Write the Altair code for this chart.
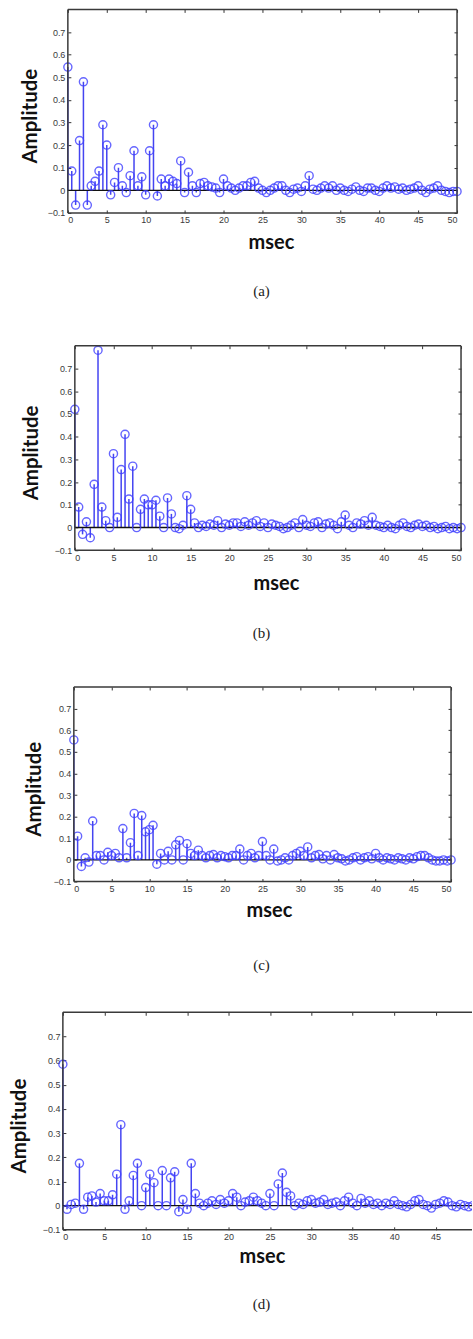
import altair as alt
import pandas as pd

# ---------------- data ----------------
T_STEP = 0.5  # msec between samples

amp_a = [
    0.545, 0.085, -0.065, 0.22, 0.48, -0.065, 0.02, 0.04, 0.085, 0.29,
    0.2, -0.02, 0.035, 0.1, 0.02, -0.01, 0.065, 0.175, 0.02, 0.06,
    -0.02, 0.175, 0.29, -0.025, 0.05, 0.02, 0.05, 0.04, 0.03, 0.13,
    -0.01, 0.08, 0.02, -0.01, 0.03, 0.035, 0.02, 0.015, 0.01, -0.01,
    0.05, 0.02, 0.01, 0.0, 0.01, 0.02, 0.02, 0.035, 0.04, 0.01,
    0.0, -0.01, 0.0, 0.01, 0.02, 0.02, 0.0, -0.01, 0.005, 0.01,
    -0.005, 0.02, 0.065, 0.005, 0.0, 0.01, 0.02, 0.01, 0.02, 0.0,
    0.01, 0.0, -0.005, 0.005, 0.015, 0.0, -0.005, 0.01, 0.01, 0.0,
    -0.005, 0.01, 0.02, 0.01, 0.015, 0.005, 0.01, 0.0, 0.005, 0.01,
    0.02, 0.0, -0.01, 0.005, 0.01, 0.02, 0.0, -0.005, -0.01, -0.005,
    -0.005,
]

amp_b = [
    0.52, 0.09, -0.03, 0.025, -0.045, 0.19, 0.78, 0.09, 0.03, 0.0,
    0.325, 0.045, 0.255, 0.41, 0.125, 0.27, 0.0, 0.08, 0.125, 0.1,
    0.1, 0.12, 0.05, 0.0, 0.13, 0.06, 0.0, -0.005, 0.01, 0.14,
    0.08, 0.02, 0.0, 0.01, 0.005, 0.015, 0.01, 0.03, 0.0, 0.015,
    0.01, 0.02, 0.02, 0.005, 0.025, 0.01, 0.02, 0.03, 0.005, 0.02,
    0.0, 0.015, 0.01, 0.005, -0.005, 0.0, 0.01, 0.02, 0.0, 0.035,
    0.01, 0.005, 0.02, 0.025, 0.0, 0.015, 0.02, 0.01, -0.005, 0.025,
    0.055, 0.01, 0.0, 0.02, 0.015, 0.03, 0.01, 0.045, 0.01, 0.005,
    0.0, 0.01, 0.0, -0.005, 0.01, 0.02, 0.005, 0.0, 0.01, 0.015,
    0.005, 0.01, 0.0, 0.005, -0.005, 0.0, 0.005, -0.005, 0.0, -0.005,
    0.0,
]

amp_c = [
    0.555, 0.11, -0.03, 0.01, -0.01, 0.18, 0.02, 0.02, 0.0, 0.035,
    0.02, 0.03, 0.01, 0.145, 0.01, 0.08, 0.215, 0.02, 0.205, 0.13,
    0.14, 0.16, -0.02, 0.03, 0.0, 0.04, 0.0, 0.07, 0.09, 0.0,
    0.075, 0.03, 0.02, 0.045, 0.02, 0.01, 0.02, 0.025, 0.01, 0.02,
    0.015, 0.01, 0.02, 0.02, 0.05, 0.0, 0.02, 0.03, 0.01, 0.02,
    0.085, 0.02, 0.0, 0.05, -0.005, 0.0, 0.01, 0.0, 0.02, 0.03,
    0.04, 0.02, 0.06, 0.01, 0.02, 0.025, 0.005, 0.02, 0.0, 0.025,
    0.01, 0.005, -0.005, 0.0, 0.01, 0.015, 0.0, 0.01, 0.015, 0.005,
    0.03, 0.01, 0.0, 0.01, 0.005, 0.0, 0.01, 0.005, 0.0, 0.01,
    0.005, 0.015, 0.02, 0.02, 0.01, 0.0, -0.005, -0.005, 0.0, -0.005,
    0.0,
]

amp_d = [
    0.585, -0.015, 0.005, 0.01, 0.175, -0.015, 0.035, 0.04, 0.015, 0.05,
    0.02, 0.02, 0.045, 0.13, 0.335, -0.015, 0.02, 0.125, 0.175, 0.0,
    0.075, 0.13, 0.095, 0.0, 0.145, 0.0, 0.115, 0.14, -0.025, 0.025,
    -0.015, 0.175, 0.05, 0.01, 0.0, 0.01, 0.02, 0.005, 0.025, 0.01,
    0.02, 0.05, 0.035, 0.0, 0.015, 0.02, 0.035, 0.02, 0.01, 0.0,
    0.05, 0.0, 0.09, 0.135, 0.055, 0.04, 0.0, 0.01, 0.005, 0.02,
    0.025, 0.01, 0.015, 0.025, 0.005, 0.01, 0.015, 0.0, 0.02, 0.035,
    0.01, 0.0, 0.03, 0.01, 0.02, 0.005, 0.01, 0.0, 0.01, 0.005,
    0.02, 0.005, 0.0, -0.005, 0.005, 0.02, 0.025, 0.005, 0.0, -0.01,
    0.005, 0.01, 0.02, 0.015, 0.0, -0.005, 0.005, 0.0, -0.005, 0.0,
    -0.005,
]

X_TICKS = [0, 5, 10, 15, 20, 25, 30, 35, 40, 45, 50]
X_TICKS_CUT = [0, 5, 10, 15, 20, 25, 30, 35, 40, 45]
Y_TICKS = [-0.1, 0, 0.1, 0.2, 0.3, 0.4, 0.5, 0.6, 0.7]
X_DOMAIN = [0, 50]
Y_DOMAIN = [-0.1, 0.8]
X_TITLE = "msec"
Y_TITLE = "Amplitude"
CAPTIONS = ["(a)", "(b)", "(c)", "(d)"]

# ---------------- layout (page pixels) ----------------
PAGE_W = 473
# each block is a full-width strip of the page; the plot frame sits inside it
LAYOUT = [
    dict(block_top=0,   block_h=320, left=68, top=8,    w=390, h=204,
         xticks=X_TICKS, cut=False, amp_x=31, msec=(272, 242), cap=(262, 290)),
    dict(block_top=320, block_h=340, left=75, top=345,  w=387, h=205,
         xticks=X_TICKS, cut=False, amp_x=32, msec=(277, 584), cap=(262, 633)),
    dict(block_top=660, block_h=330, left=74, top=687,  w=378, h=195,
         xticks=X_TICKS, cut=False, amp_x=35, msec=(270, 912), cap=(262, 966)),
    dict(block_top=990, block_h=349, left=63, top=1013, w=415, h=218,
         xticks=X_TICKS_CUT, cut=True, amp_x=20, msec=(263, 1258), cap=(262, 1305)),
]

STEM_BLUE = "#3030f0"
CIRCLE_BLUE = "#4040ff"
FRAME = "#3a3a3a"
TICK = 3


def panel(amps, caption, L):
    df = pd.DataFrame({"t": [i * T_STEP for i in range(len(amps))], "v": amps})
    bh = L["block_h"]
    x0 = L["left"]
    x1 = L["left"] + L["w"]
    y0 = L["top"] - L["block_top"]          # plot top inside the block
    y1 = y0 + L["h"]                        # plot bottom inside the block
    xs = alt.Scale(domain=X_DOMAIN, range=[x0, x1], nice=False, zero=False)
    ys = alt.Scale(domain=Y_DOMAIN, range=[y1, y0], nice=False, zero=False)

    common = dict(domain=False, grid=False, title=None, tickSize=TICK)
    ax_bottom = alt.Axis(orient="bottom", values=L["xticks"], offset=(y1 - TICK) - bh,
                         labelPadding=3, **common)
    ax_left = alt.Axis(orient="left", values=Y_TICKS, format=".1~f", offset=-(x0 + TICK),
                       labelPadding=3, **common)
    ax_top = alt.Axis(orient="top", values=L["xticks"], labels=False, offset=-(y0 + TICK), **common)

    stems = alt.Chart(df).mark_rule(color=STEM_BLUE, strokeWidth=1.5, opacity=0.9, clip=True).encode(
        x=alt.X("t:Q", scale=xs, axis=ax_bottom),
        y=alt.Y("v:Q", scale=ys, axis=ax_left),
        y2=alt.datum(0),
    )
    baseline = alt.Chart(pd.DataFrame({"a": [X_DOMAIN[0]], "b": [X_DOMAIN[1]], "z": [0]})).mark_rule(
        color="#111111", strokeWidth=1.3, clip=True
    ).encode(
        x=alt.X("a:Q", scale=xs, axis=None), x2="b:Q",
        y=alt.Y("z:Q", scale=ys, axis=None),
    )
    circles = alt.Chart(df).mark_point(
        shape="circle", filled=False, size=66, color=CIRCLE_BLUE, strokeWidth=1.4, opacity=0.8, clip=True
    ).encode(
        x=alt.X("t:Q", scale=xs, axis=None),
        y=alt.Y("v:Q", scale=ys, axis=None),
    )
    if L["cut"]:
        extra_enc = dict(
            x=alt.X("t:Q", scale=xs, axis=ax_top),
            y=alt.Y("v:Q", scale=ys, axis=None),
        )
    else:
        ax_right = alt.Axis(orient="right", values=Y_TICKS, labels=False,
                            offset=(x1 - TICK) - PAGE_W, **common)
        extra_enc = dict(
            x=alt.X("t:Q", scale=xs, axis=ax_top),
            y=alt.Y("v:Q", scale=ys, axis=ax_right),
        )
    extra_axes = alt.Chart(pd.DataFrame({"t": [0], "v": [0]})).mark_point(opacity=0).encode(**extra_enc)

    ytitle = alt.Chart(pd.DataFrame({"s": [Y_TITLE]})).mark_text(
        angle=270, font="Lato", fontWeight="bold", fontSize=20.5, color="#111111",
        align="center", baseline="middle",
    ).encode(x=alt.value(L["amp_x"]), y=alt.value((y0 + y1) / 2 + 5), text="s:N")
    xtitle = alt.Chart(pd.DataFrame({"s": [X_TITLE]})).mark_text(
        font="Lato", fontWeight="bold", fontSize=20, color="#111111",
        align="center", baseline="middle",
    ).encode(x=alt.value(L["msec"][0]), y=alt.value(L["msec"][1] - L["block_top"]), text="s:N")
    cap = alt.Chart(pd.DataFrame({"s": [caption]})).mark_text(
        font="Liberation Serif", fontSize=15, color="#222222",
        align="center", baseline="middle",
    ).encode(x=alt.value(L["cap"][0]), y=alt.value(L["cap"][1] - L["block_top"]), text="s:N")

    # plot frame (open on the right when the page edge cuts the panel)
    edge = pd.DataFrame({"k": [0]})
    fs = dict(color=FRAME, strokeWidth=1.5)
    right_end = min(x1, PAGE_W)
    frame = [
        alt.Chart(edge).mark_rule(**fs).encode(x=alt.value(x0), x2=alt.value(right_end), y=alt.value(y0)),
        alt.Chart(edge).mark_rule(**fs).encode(x=alt.value(x0), x2=alt.value(right_end), y=alt.value(y1)),
        alt.Chart(edge).mark_rule(**fs).encode(x=alt.value(x0), y=alt.value(y0), y2=alt.value(y1)),
    ]
    if not L["cut"]:
        frame.append(alt.Chart(edge).mark_rule(**fs).encode(x=alt.value(x1), y=alt.value(y0), y2=alt.value(y1)))

    layers = [stems, baseline, circles, extra_axes] + frame + [ytitle, xtitle, cap]
    return alt.layer(*layers).resolve_axis(
        x="independent", y="independent"
    ).properties(width=PAGE_W, height=bh)


panels = [panel(a, c, L) for a, c, L in zip([amp_a, amp_b, amp_c, amp_d], CAPTIONS, LAYOUT)]

chart = alt.vconcat(*panels, spacing=0).properties(padding=0).configure_view(
    stroke="transparent", strokeWidth=0
).configure_axis(
    labelFont="Liberation Sans", labelFontSize=9, labelColor="#3a3a3a",
    tickColor="#333333", tickWidth=1,
)

chart.save("out.html", embed_options={"renderer": "svg", "actions": False})
